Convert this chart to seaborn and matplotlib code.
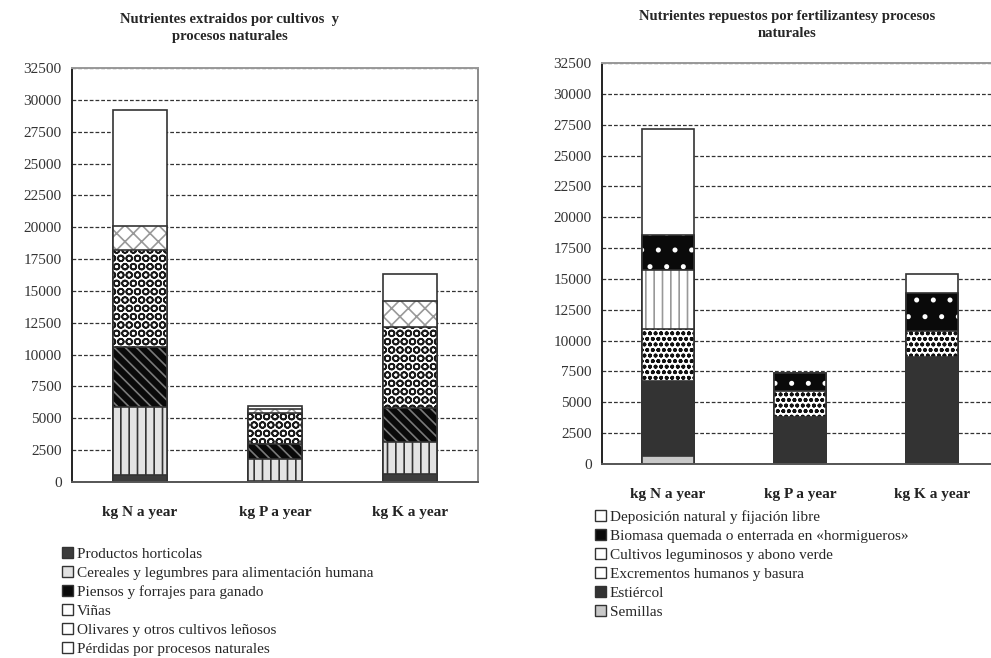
import matplotlib
matplotlib.use("Agg")
import matplotlib.pyplot as plt
import seaborn as sns
import pandas as pd
from matplotlib.patches import Patch

sns.set_style("white")
plt.rcParams['font.family'] = ['Liberation Serif', 'DejaVu Serif']
plt.rcParams['hatch.linewidth'] = 1.2

categorias = ['kg N a year', 'kg P a year', 'kg K a year']

# Nutrientes extraidos (kg / year), de abajo hacia arriba
series_extr = ['Productos horticolas',
               'Cereales y legumbres para alimentación humana',
               'Piensos y forrajes para ganado',
               'Viñas',
               'Olivares y otros cultivos leñosos',
               'Pérdidas por procesos naturales']
horticolas = [550, 100, 600]
cereales = [5350, 1680, 2550]
piensos = [4670, 1240, 2620]
vinas = [7610, 2410, 6430]
olivares = [1940, 270, 2020]
perdidas = [9070, 280, 2120]

# Nutrientes repuestos (kg / year), de abajo hacia arriba
series_rep = ['Semillas',
              'Estiércol',
              'Excrementos humanos y basura',
              'Cultivos leguminosos y abono verde',
              'Biomasa quemada o enterrada en «hormigueros»',
              'Deposición natural y fijación libre']
semillas = [650, 60, 60]
estiercol = [6060, 3770, 8620]
excrementos = [4210, 2070, 2100]
leguminosos = [4770, 0, 0]
biomasa = [2830, 1510, 3100]
deposicion = [8600, 0, 1490]

yticks = list(range(0, 32501, 2500))

# (relleno, trama, color de trama)
estilos_extr = [('#3c3c3c', None, '#3c3c3c'),
                ('#e2e2e2', '||', '#333333'),
                ('#0a0a0a', '\\\\\\', '#7a7a7a'),
                ('#ffffff', 'OO', '#1a1a1a'),
                ('#ffffff', 'xx', '#999999'),
                ('#ffffff', None, '#ffffff')]
estilos_rep = [('#c8c8c8', None, '#c8c8c8'),
               ('#333333', None, '#333333'),
               ('#ffffff', 'ooo', '#111111'),
               ('#ffffff', '||', '#999999'),
               ('#0a0a0a', '.', '#ffffff'),
               ('#ffffff', None, '#ffffff')]


def apilar(ax, series, capas, estilos):
    df = pd.DataFrame(dict(zip(series, capas)), index=categorias)
    acum = df.cumsum(axis=1)
    for serie, (face, hatch, hcol) in reversed(list(zip(series, estilos))):
        sns.barplot(x=categorias, y=acum[serie].values, ax=ax, color=face,
                    saturation=1, width=0.4, errorbar=None,
                    hatch=hatch, edgecolor=hcol, linewidth=0)
        sns.barplot(x=categorias, y=acum[serie].values, ax=ax, width=0.4,
                    errorbar=None, facecolor='none', edgecolor='#333333',
                    linewidth=1.2)


def formato(ax, derecho):
    ax.set_ylim(0, 32500)
    ax.set_xlim(-0.5, 2.5)
    ax.set_yticks(yticks)
    ax.set_yticklabels([str(v) for v in yticks], fontsize=11, color='#333333')
    ax.yaxis.grid(True, linestyle=(0, (3, 1.6)), color='#333333', linewidth=0.9)
    ax.set_axisbelow(True)
    ax.set_xticks([0, 1, 2])
    ax.set_xticklabels(categorias, fontsize=11, fontweight='bold', color='#222222')
    ax.set_xticks([0.5, 1.5, 2.5], minor=True)
    ax.tick_params(axis='x', which='major', length=0, pad=17)
    ax.tick_params(axis='x', which='minor', length=4, direction='out', color='#555555')
    ax.tick_params(axis='y', length=7, direction='inout', color='#333333', pad=4)
    ax.set_xlabel('')
    ax.set_ylabel('')
    ax.spines['left'].set_color('#222222')
    ax.spines['left'].set_linewidth(1.4)
    ax.spines['bottom'].set_color('#555555')
    ax.spines['bottom'].set_linewidth(1.4)
    ax.spines['top'].set_color('#999999')
    ax.spines['top'].set_linewidth(1.4)
    ax.spines['right'].set_color('#777777')
    ax.spines['right'].set_linewidth(1.2)
    ax.spines['right'].set_visible(not derecho)


fig = plt.figure(figsize=(9.91, 6.58), dpi=100)
ax1 = fig.add_axes([72 / 991, 1 - 482 / 658, 406 / 991, 414 / 658])
ax2 = fig.add_axes([602 / 991, 1 - 464 / 658, 396 / 991, 401 / 658])

apilar(ax1, series_extr, [horticolas, cereales, piensos, vinas, olivares, perdidas], estilos_extr)
apilar(ax2, series_rep, [semillas, estiercol, excrementos, leguminosos, biomasa, deposicion], estilos_rep)
formato(ax1, False)
formato(ax2, True)

fig.text(230 / 991, 1 - 28 / 658, 'Nutrientes extraidos por cultivos  y\nprocesos naturales',
         ha='center', va='center', fontsize=10.5, fontweight='bold', linespacing=1.45)
fig.text(787 / 991, 1 - 25 / 658, 'Nutrientes repuestos por fertilizantesy procesos\nnaturales',
         ha='center', va='center', fontsize=10.5, fontweight='bold', linespacing=1.45)


def manejadores(series, estilos):
    hs = []
    for serie, (face, hatch, hcol) in zip(series, estilos):
        hs.append(Patch(facecolor=face, edgecolor='#333333', linewidth=1.0, label=serie))
    return hs


leg_kw = dict(frameon=False, fontsize=11, handlelength=0.75, handleheight=0.75,
              handletextpad=0.2, labelspacing=0.33, borderpad=0, borderaxespad=0,
              loc='upper left')
fig.legend(handles=manejadores(series_extr, estilos_extr),
           bbox_to_anchor=(62 / 991, 1 - 547 / 658), **leg_kw)
fig.legend(handles=manejadores(series_rep, estilos_rep)[::-1],
           bbox_to_anchor=(595 / 991, 1 - 510 / 658), **leg_kw)

fig.savefig('out.png', dpi=100)
